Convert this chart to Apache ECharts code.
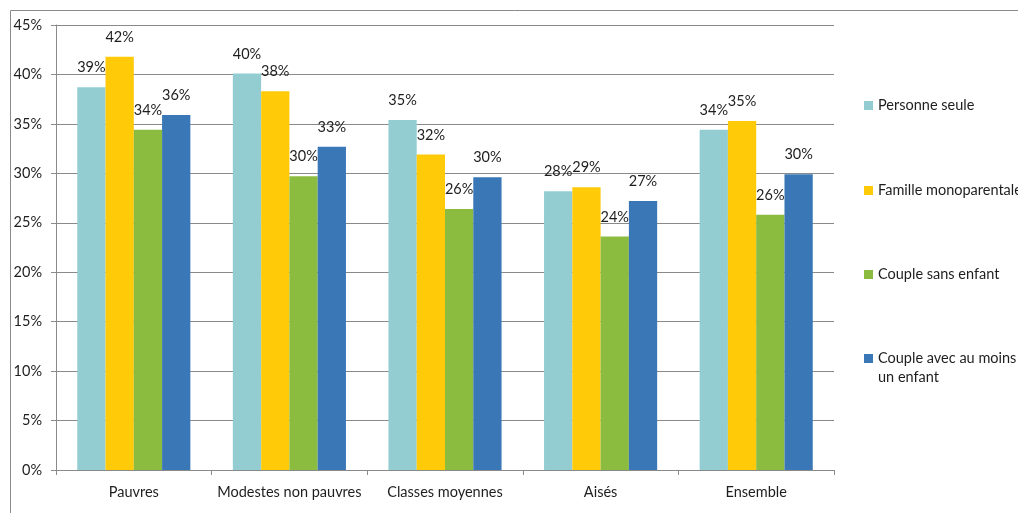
<!DOCTYPE html>
<html>
<head>
<meta charset="utf-8">
<script src="https://cdn.jsdelivr.net/npm/echarts@6/dist/echarts.min.js"></script>
<style>
  html, body { margin: 0; padding: 0; background: #ffffff; }
  #chart { width: 1018px; height: 513px; }
</style>
</head>
<body>
<div id="chart"></div>
<script>
// Household types by income class (share, %)
var categories = ['Pauvres', 'Modestes non pauvres', 'Classes moyennes', 'Aisés', 'Ensemble'];
var seriesNames = ['Personne seule', 'Famille monoparentale', 'Couple sans enfant', 'Couple avec au moins un enfant'];
var personneSeule = [38.7, 40.1, 35.4, 28.2, 34.4];
var familleMono = [41.8, 38.3, 31.9, 28.6, 35.3];
var coupleSansEnfant = [34.4, 29.7, 26.4, 23.6, 25.8];
var coupleAvecEnfant = [35.9, 32.7, 29.6, 27.2, 29.9];
var yTicks = { min: 0, max: 45, step: 5 };

var colors = ['#93CDD2', '#FFCA08', '#8BBB3F', '#3A77B6'];
var seriesValues = [personneSeule, familleMono, coupleSansEnfant, coupleAvecEnfant];
var fontFamily = 'Lato, "Open Sans", sans-serif';
var textColor = '#1e1e1e';
var lineColor = '#8a8a8a';
var fontSize = 14.5;

var chart = echarts.init(document.getElementById('chart'), null, { renderer: 'canvas' });

var series = seriesNames.map(function (name, i) {
  return {
    name: name,
    type: 'bar',
    data: seriesValues[i],
    barGap: '0%',
    barCategoryGap: '27.3%',
    itemStyle: { color: colors[i] },
    label: {
      show: true,
      position: 'top',
      distance: 12,
      color: textColor,
      fontFamily: fontFamily,
      fontSize: fontSize,
      formatter: function (p) { return Math.round(p.value) + '%'; }
    }
  };
});

// one legend block per series so each entry sits at its own height;
// the two-line entry gets a leading empty line so its swatch lines up with the first line
var legendTops = [91, 176, 260, 325];
var legends = seriesNames.map(function (name, i) {
  return {
    data: [name],
    left: 864,
    top: legendTops[i],
    padding: [5, 0, 5, 0],
    orient: 'vertical',
    itemWidth: 9,
    itemHeight: 9,
    itemGap: 0,
    icon: 'rect',
    formatter: function (n) {
      return n === 'Couple avec au moins un enfant' ? '\nCouple avec au moins\nun enfant' : n;
    },
    textStyle: {
      color: textColor,
      fontFamily: fontFamily,
      fontSize: fontSize,
      lineHeight: 19
    }
  };
});

chart.setOption({
  animation: false,
  backgroundColor: '#ffffff',
  color: colors,
  graphic: [{
    type: 'rect',
    shape: { x: 10.5, y: 10.5, width: 1100, height: 600 },
    style: { fill: 'none', stroke: lineColor, lineWidth: 1 },
    silent: true
  }],
  grid: { left: 56, right: 184, top: 25, bottom: 43, containLabel: false },
  legend: legends,
  xAxis: {
    type: 'category',
    data: categories,
    axisLine: { show: true, lineStyle: { color: lineColor, width: 1 } },
    axisTick: { show: true, alignWithLabel: false, length: 5, lineStyle: { color: lineColor } },
    axisLabel: { color: textColor, fontFamily: fontFamily, fontSize: fontSize, margin: 15, interval: 0 },
    splitLine: { show: false }
  },
  yAxis: {
    type: 'value',
    min: yTicks.min,
    max: yTicks.max,
    interval: yTicks.step,
    axisLine: { show: true, lineStyle: { color: lineColor, width: 1 } },
    axisTick: { show: true, inside: false, length: 5, lineStyle: { color: lineColor } },
    axisLabel: { color: textColor, fontFamily: fontFamily, fontSize: fontSize, margin: 14, formatter: '{value}%' },
    splitLine: { show: true, lineStyle: { color: lineColor, width: 1 } }
  },
  series: series
});
</script>
</body>
</html>
